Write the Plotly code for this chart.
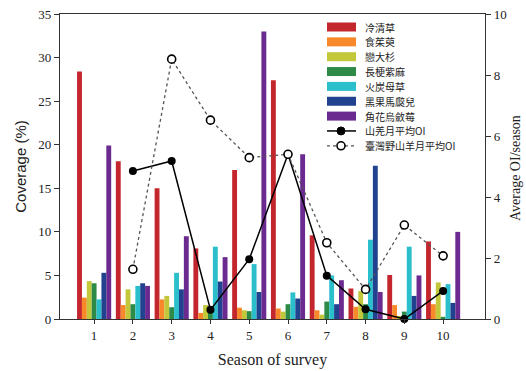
import plotly.graph_objects as go

seasons = [1, 2, 3, 4, 5, 6, 7, 8, 9, 10]
species = ["冷清草", "食茱萸", "戀大杉", "長梗紫麻", "火炭母草", "黑果馬㼎兒", "角花烏斂莓"]
colors = ["#c4262e", "#f7892a", "#c3c73a", "#2d8a47", "#2bbfcb", "#21428f", "#6b2a8f"]

cov_1 = [28.4, 18.1, 15.0, 8.1, 17.1, 27.4, 9.6, 3.5, 5.05, 8.9]
cov_2 = [2.45, 1.6, 2.25, 0.7, 1.3, 1.2, 1.0, 1.4, 1.6, 1.7]
cov_3 = [4.35, 3.4, 2.65, 1.6, 1.0, 0.85, 0.5, 3.2, 0.35, 4.2]
cov_4 = [4.1, 1.7, 1.35, 1.0, 0.9, 1.7, 2.0, 1.7, 0.85, 0.25]
cov_5 = [2.25, 3.8, 5.3, 8.3, 6.3, 3.05, 5.0, 9.1, 8.3, 4.0]
cov_6 = [5.3, 4.1, 3.4, 4.3, 3.1, 2.35, 1.7, 17.6, 2.65, 1.85]
cov_7 = [19.9, 3.8, 9.5, 7.1, 33.0, 18.9, 4.45, 3.1, 5.0, 10.0]
coverage = [cov_1, cov_2, cov_3, cov_4, cov_5, cov_6, cov_7]

line_names = ["山羌月平均OI", "臺灣野山羊月平均OI"]
muntjac_x = [2, 3, 4, 5, 6, 7, 8, 9, 10]
muntjac_oi = [4.85, 5.18, 0.3, 1.96, 5.4, 1.42, 0.32, 0.0, 0.92]
serow_x = [2, 3, 4, 5, 6, 7, 8, 9, 10]
serow_oi = [1.63, 8.52, 6.52, 5.29, 5.4, 2.5, 0.97, 3.08, 2.07]

fig = go.Figure()
for name, vals, c in zip(species, coverage, colors):
    fig.add_trace(go.Bar(x=seasons, y=vals, name=name, marker=dict(color=c, line=dict(width=0)),
                         showlegend=False))

fig.add_trace(go.Scatter(x=muntjac_x, y=muntjac_oi, yaxis="y2", mode="lines+markers",
                         name=line_names[0],
                         line=dict(color="black", width=1.5),
                         marker=dict(color="black", size=8), cliponaxis=False, showlegend=False))
fig.add_trace(go.Scatter(x=serow_x, y=serow_oi, yaxis="y2", mode="lines+markers",
                         name=line_names[1],
                         line=dict(color="#555555", width=1.3, dash="dot"),
                         marker=dict(color="white", size=8, line=dict(color="black", width=1.6)),
                         cliponaxis=False, showlegend=False))

W, H = 526, 371
pl, pr, pt, pb = 60, 485, 14, 319  # plot area in page pixels

serif = "Liberation Serif"
axcol = "#333333"
fig.update_layout(
    width=W, height=H,
    margin=dict(l=pl, r=W - pr, t=pt, b=H - pb, autoexpand=False),
    plot_bgcolor="white", paper_bgcolor="white",
    barmode="group", bargap=0.12, bargroupgap=0,
    xaxis=dict(range=[0.12, 11.08], tickvals=seasons, ticks="outside", ticklen=4,
               tickcolor=axcol, showline=True, linecolor=axcol, linewidth=1.3, mirror=True,
               showgrid=False, zeroline=False,
               tickfont=dict(family=serif, size=13, color="#222"),
               title=dict(text="Season of survey", font=dict(family=serif, size=16, color="#222"), standoff=12)),
    yaxis=dict(range=[0, 35], dtick=5, ticks="outside", ticklen=5, tickcolor=axcol,
               showline=True, linecolor=axcol, linewidth=1.3, showgrid=False, zeroline=False,
               ticklabeloverflow="allow",
               tickfont=dict(family=serif, size=13, color="#222"),
               title=dict(text="Coverage (%)", font=dict(family="Liberation Sans", size=15, color="#222"), standoff=8)),
    yaxis2=dict(range=[0, 10], dtick=2, overlaying="y", side="right", ticks="outside", ticklen=5,
                tickcolor=axcol, showline=True, linecolor=axcol, linewidth=1.3, showgrid=False,
                zeroline=False, ticklabeloverflow="allow",
                tickfont=dict(family=serif, size=13, color="#222")),
)

def px(x):
    return (x - pl) / (pr - pl)
def py(y):
    return (pb - y) / (pb - pt)

row_y = [27 + 14.85 * i for i in range(9)]
sx0, sx1, tx = 327, 356, 363
shapes = []
annots = []
cjk = "Noto Sans CJK TC"
for i, (name, c) in enumerate(zip(species, colors)):
    y = row_y[i]
    shapes.append(dict(type="rect", xref="paper", yref="paper", x0=px(sx0), x1=px(sx1),
                       y0=py(y + 4.5), y1=py(y - 4.5), fillcolor=c, line=dict(width=0)))
    annots.append(dict(xref="paper", yref="paper", x=px(tx), y=py(y), xanchor="left", yanchor="middle",
                       text=name, showarrow=False,
                       font=dict(family=cjk, size=10, color="#222")))
for j, name in enumerate(line_names):
    y = row_y[7 + j]
    if j == 0:
        shapes.append(dict(type="line", xref="paper", yref="paper", x0=px(sx0), x1=px(sx1),
                           y0=py(y), y1=py(y), line=dict(color="black", width=1.5)))
        shapes.append(dict(type="circle", xref="paper", yref="paper", x0=px(337), x1=px(345),
                           y0=py(y + 4), y1=py(y - 4), fillcolor="black", line=dict(color="black", width=1)))
    else:
        shapes.append(dict(type="line", xref="paper", yref="paper", x0=px(sx0), x1=px(sx1),
                           y0=py(y), y1=py(y), line=dict(color="#555555", width=1.2, dash="dot")))
        shapes.append(dict(type="circle", xref="paper", yref="paper", x0=px(337), x1=px(345),
                           y0=py(y + 4), y1=py(y - 4), fillcolor="white", line=dict(color="black", width=1.6)))
    annots.append(dict(xref="paper", yref="paper", x=px(tx), y=py(y), xanchor="left", yanchor="middle",
                       text=name, showarrow=False,
                       font=dict(family=cjk, size=10, color="#222")))

# right axis title
annots.append(dict(xref="paper", yref="paper", x=px(516), y=py(168), xanchor="center", yanchor="middle",
                   text="Average OI/season", textangle=-90, showarrow=False,
                   font=dict(family=serif, size=14, color="#222")))

fig.update_layout(shapes=shapes, annotations=annots)
fig.write_html("out.html", config={"displayModeBar": False},
               post_script="document.body.style.margin='0';document.body.style.overflow='hidden';")
